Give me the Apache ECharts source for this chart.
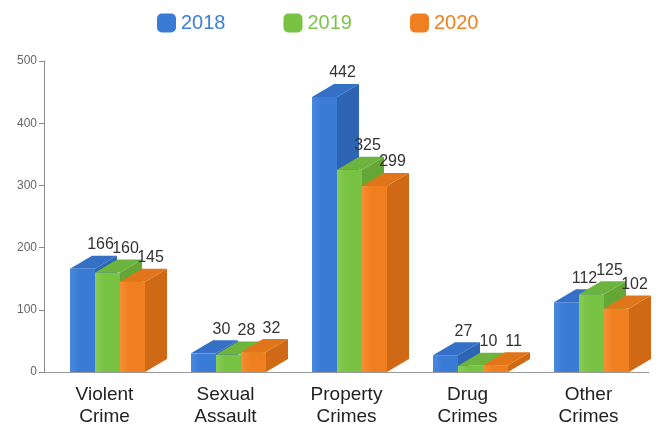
<!DOCTYPE html>
<html>
<head>
<meta charset="utf-8">
<script src="https://cdn.jsdelivr.net/npm/echarts@6/dist/echarts.min.js"></script>
<style>
  html, body { margin: 0; padding: 0; background: #fff; }
  #chart { width: 659px; height: 428px; }
</style>
</head>
<body>
<div id="chart"></div>
<script>
// Crime counts by category and year
const categories = ['Violent\nCrime', 'Sexual\nAssault', 'Property\nCrimes', 'Drug\nCrimes', 'Other\nCrimes'];
const years = ['2018', '2019', '2020'];
const values2018 = [166, 30, 442, 27, 112];
const values2019 = [160, 28, 325, 10, 125];
const values2020 = [145, 32, 299, 11, 102];
const yTicks = [0, 100, 200, 300, 400, 500];

// Face colours per series: front (light -> base), side, top
const palette = [
  { base: '#3a7bd6', light: '#4a89e0', side: '#2e64b4', top: '#3470c6', text: '#3b7fd8' },
  { base: '#78c244', light: '#88cd55', side: '#64a737', top: '#6cb43d', text: '#7dc54a' },
  { base: '#f0801f', light: '#f68e33', side: '#cf6916', top: '#e0751a', text: '#f0801f' }
];

const BAR_W = 25;     // front face width
const DEPTH_X = 22;   // extrusion to the right
const DEPTH_Y = -13;  // extrusion upwards
const FONT = '"Liberation Sans", Arial, sans-serif';

function makeRenderer(si) {
  return function (params, api) {
    const ci = api.value(0);
    const v = api.value(1);
    const base = api.coord([ci, 0]);
    const top = api.coord([ci, v]);
    const x0 = base[0] + 3 - 1.5 * BAR_W + si * BAR_W;
    const x1 = x0 + BAR_W;
    const yB = base[1];
    const yT = top[1];
    const c = palette[si];
    const zb = si * 4;
    return {
      type: 'group',
      children: [
        {
          type: 'polygon', z2: zb,
          shape: { points: [[x1, yT], [x1 + DEPTH_X, yT + DEPTH_Y], [x1 + DEPTH_X, yB + DEPTH_Y], [x1, yB]] },
          style: { fill: c.side }
        },
        {
          type: 'polygon', z2: zb + 1,
          shape: { points: [[x0, yT], [x0 + DEPTH_X, yT + DEPTH_Y], [x1 + DEPTH_X, yT + DEPTH_Y], [x1, yT]] },
          style: { fill: c.top }
        },
        {
          type: 'rect', z2: zb + 2,
          shape: { x: x0, y: yT, width: BAR_W, height: yB - yT },
          style: {
            fill: new echarts.graphic.LinearGradient(0, 0, 1, 0, [
              { offset: 0, color: c.light },
              { offset: 0.35, color: c.base },
              { offset: 1, color: c.base }
            ])
          }
        },
        {
          type: 'text', z2: 100,
          style: {
            x: x0 + BAR_W / 2 + 18,
            y: yT - 24,
            text: String(v),
            fill: '#333',
            font: '16px ' + FONT,
            align: 'center',
            verticalAlign: 'middle'
          }
        }
      ]
    };
  };
}

const seriesValues = [values2018, values2019, values2020];

const chart = echarts.init(document.getElementById('chart'), null, { renderer: 'canvas' });
chart.setOption({
  backgroundColor: '#ffffff',
  animation: false,
  color: palette.map(p => p.base),
  legend: {
    left: 152,
    top: 8,
    itemWidth: 19,
    itemHeight: 19,
    itemGap: 58,
    icon: 'roundRect',
    textStyle: { fontSize: 20, fontFamily: FONT },
    data: years.map((y, i) => ({ name: y, textStyle: { color: palette[i].text } }))
  },
  grid: { left: 44, right: 10, top: 61, bottom: 49 },
  xAxis: {
    type: 'category',
    data: categories,
    axisLine: { lineStyle: { color: '#9a9a9a', width: 1 } },
    axisTick: { alignWithLabel: true, length: 6, lineStyle: { color: '#9a9a9a' } },
    axisLabel: { color: '#222', fontSize: 19, lineHeight: 22, margin: 12, fontFamily: FONT, interval: 0 },
    splitLine: { show: false }
  },
  yAxis: {
    type: 'value',
    min: yTicks[0],
    max: yTicks[yTicks.length - 1],
    interval: yTicks[1] - yTicks[0],
    axisLine: { show: true, lineStyle: { color: '#8a8a8a', width: 1 } },
    axisTick: { show: true, length: 5, lineStyle: { color: '#8a8a8a' } },
    axisLabel: { color: '#666', fontSize: 12, margin: 7, fontFamily: FONT },
    splitLine: { show: false }
  },
  series: years.map((y, si) => ({
    name: y,
    type: 'custom',
    renderItem: makeRenderer(si),
    encode: { x: 0, y: 1 },
    data: seriesValues[si].map((v, ci) => [ci, v])
  }))
});
</script>
</body>
</html>
